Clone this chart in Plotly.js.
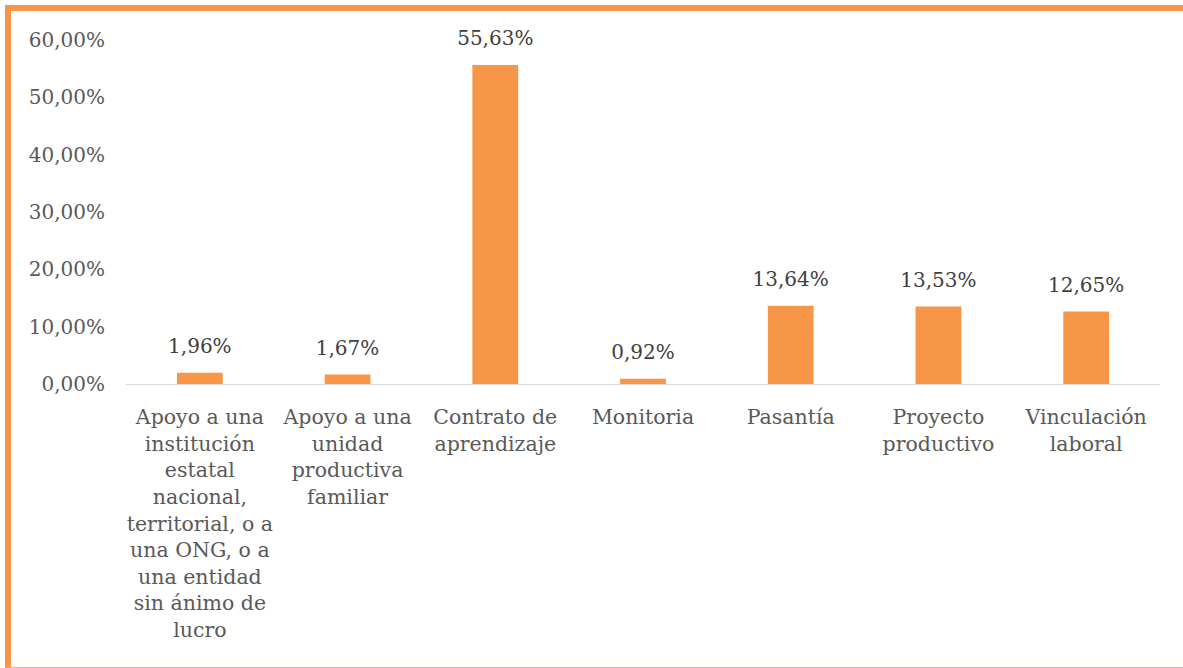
<!DOCTYPE html>
<html>
<head>
<meta charset="utf-8">
<script src="https://cdn.plot.ly/plotly-3.0.1.min.js"></script>
<style>
  html, body { margin: 0; padding: 0; background: #fff; overflow: hidden; }
  #chart { position: absolute; left: 0; top: 0; width: 1183px; height: 668px; }
  #frame { position: absolute; left: 5px; top: 5px; width: 1200px; height: 656px;
           border-top: 6px solid #F79646; border-left: 6px solid #F79646;
           border-bottom: 1px solid #F4B183; pointer-events: none; }
</style>
</head>
<body>
<div id="chart"></div>
<div id="frame"></div>
<script>
const categories = [
  "Apoyo a una<br>institución<br>estatal<br>nacional,<br>territorial, o a<br>una ONG, o a<br>una entidad<br>sin ánimo de<br>lucro",
  "Apoyo a una<br>unidad<br>productiva<br>familiar",
  "Contrato de<br>aprendizaje",
  "Monitoria",
  "Pasantía",
  "Proyecto<br>productivo",
  "Vinculación<br>laboral"
];
const shares = [0.0196, 0.0167, 0.5563, 0.0092, 0.1364, 0.1353, 0.1265];
const yTicks = [0, 0.1, 0.2, 0.3, 0.4, 0.5, 0.6];

const font = "DejaVu Serif, serif";

const bars = {
  type: "bar",
  x: categories,
  y: shares,
  marker: { color: "#F79646" },
  hoverinfo: "none",
  cliponaxis: false
};
const labels = {
  type: "scatter",
  mode: "markers+text",
  x: categories,
  y: shares,
  text: shares.map(v => (v * 100).toFixed(2).replace(".", ",") + "%"),
  textposition: "top center",
  textfont: { family: font, size: 20, color: "#404040" },
  marker: { size: 22, opacity: 0 },
  hoverinfo: "none",
  cliponaxis: false
};

const layout = {
  width: 1183, height: 668,
  margin: { l: 126, r: 23, t: 40, b: 284 },
  paper_bgcolor: "#ffffff",
  plot_bgcolor: "#ffffff",
  showlegend: false,
  bargap: 0.69,
  separators: ",.",
  font: { family: font, size: 20, color: "#595959" },
  xaxis: {
    type: "category",
    showgrid: false,
    showline: true,
    linecolor: "#D9D9D9",
    linewidth: 1.3,
    ticks: "",
    tickangle: 0,
    ticklabelstandoff: 14,
    tickfont: { family: font, size: 20.5, color: "#595959" },
    zeroline: false
  },
  yaxis: {
    range: [0, 0.6],
    tickvals: yTicks,
    tickformat: ".2%",
    showgrid: false,
    zeroline: false,
    showline: false,
    ticks: "",
    ticklabelstandoff: 20,
    tickfont: { family: font, size: 20, color: "#595959" }
  }
};

Plotly.newPlot("chart", [bars, labels], layout, { staticPlot: true });
</script>
</body>
</html>
